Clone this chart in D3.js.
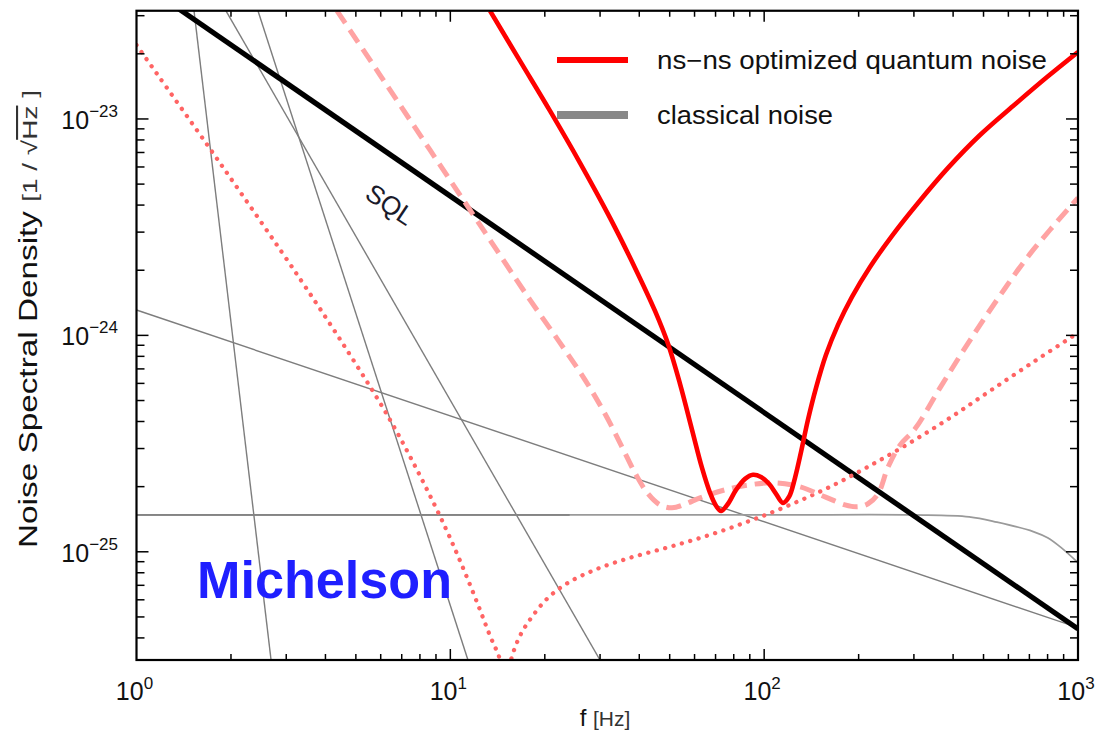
<!DOCTYPE html>
<html>
<head>
<meta charset="utf-8">
<script src="https://cdn.jsdelivr.net/npm/d3@7"></script>
<style>
  html, body { margin: 0; padding: 0; background: #fff; }
  svg { display: block; }
  text { font-family: "Liberation Sans", Arial, Helvetica, sans-serif; }
</style>
</head>
<body>
<svg id="chart" width="1099" height="746"></svg>
<script>
// ---------------- data ----------------
const xTickValues = [1, 10, 100, 1000];
const xTickExps = ["0", "1", "2", "3"];
const yTickValues = [1e-23, 1e-24, 1e-25];
const yTickExps = ["\u221223", "\u221224", "\u221225"];

// Standard quantum limit (black)
const sqlF = [1, 1000];
const sqlS = [4.40e-23, 4.40e-26];

// ns-ns optimized quantum noise (red solid)
const optF = [13.38, 16.67, 20.78, 25.89, 32.27, 38.77, 44.89, 49.38, 53.93, 58.90, 63.38, 67.22, 70.24, 72.87, 76.70, 81.34, 86.90, 92.14, 97.70, 103.6, 109.1, 114.8, 120.0, 125.4, 131.1, 137.9, 146.3, 157.4, 171.9, 190.5, 217.4, 255.5, 309.2, 385.3, 487.4, 620.9, 796.9, 1000];
const optS = [3.16e-23, 1.854e-23, 1.089e-23, 6.27e-24, 3.49e-24, 2.05e-24, 1.297e-24, 9.14e-25, 5.97e-25, 3.66e-25, 2.44e-25, 1.873e-25, 1.631e-25, 1.545e-25, 1.667e-25, 1.932e-25, 2.173e-25, 2.27e-25, 2.218e-25, 2.061e-25, 1.854e-25, 1.683e-25, 1.795e-25, 2.198e-25, 2.897e-25, 4.074e-25, 5.719e-25, 8.128e-25, 1.118e-24, 1.507e-24, 2.07e-24, 2.884e-24, 4.09e-24, 5.94e-24, 8.43e-24, 1.148e-23, 1.563e-23, 2.04e-23];

// pink dashed quantum noise
const dashF = [4.355, 5.971, 8.612, 12.43, 17.94, 22.36, 26.86, 31.10, 35.24, 39.05, 42.65, 46.57, 50.86, 56.36, 62.47, 75.04, 90.14, 108.3, 130.1, 156.3, 180.9, 199.1, 214.2, 230.6, 248.1, 270.9, 302.5, 363.3, 443.0, 552.1, 703.3, 1000];
const dashS = [3.155e-23, 1.596e-23, 7.19e-24, 3.24e-24, 1.459e-24, 9.24e-25, 6.23e-25, 4.34e-25, 3.05e-25, 2.27e-25, 1.854e-25, 1.648e-25, 1.596e-25, 1.667e-25, 1.776e-25, 1.933e-25, 2.04e-25, 2.083e-25, 1.996e-25, 1.795e-25, 1.648e-25, 1.614e-25, 1.667e-25, 1.854e-25, 2.46e-25, 3.11e-25, 3.70e-25, 5.72e-25, 9.04e-25, 1.459e-24, 2.38e-24, 4.32e-24];

// red dotted quantum noise
const dotF = [1, 1.845, 3.319, 4.789, 6.425, 8.007, 9.616, 10.97, 12.25, 13.38, 14.40, 14.94, 15.61, 16.67, 18.21, 20.48, 23.71, 28.91, 37.37, 50.12, 67.22, 90.14, 120.9, 162.1, 217.4, 291.6, 391.1, 524.5, 729.5, 1000];
const dotS = [2.196e-23, 6.26e-24, 1.824e-24, 8.13e-25, 4.07e-25, 2.244e-25, 1.304e-25, 8.44e-26, 5.69e-26, 4.09e-26, 3.17e-26, 2.26e-26, 3.17e-26, 4.09e-26, 5.01e-26, 6.13e-26, 7.19e-26, 8.26e-26, 9.38e-26, 1.055e-25, 1.198e-25, 1.390e-25, 1.648e-25, 1.996e-25, 2.50e-25, 3.19e-25, 4.16e-25, 5.54e-25, 7.62e-25, 1.027e-24];

// classical noise (gray)
const seismicF = [1.525, 2.684];
const seismicS = [3.16e-23, 3.16e-26];
const gravGradF = [2.438, 11.38];
const gravGradS = [3.16e-23, 3.16e-26];
const suspF = [1.928, 29.99];
const suspS = [3.16e-23, 3.16e-26];
const slopeF = [1, 1000];
const slopeS = [1.31e-24, 4.46e-26];
const flatF = [1, 100, 300, 450, 552, 720, 800, 880, 1000];
const flatS = [1.48e-25, 1.48e-25, 1.48e-25, 1.45e-25, 1.37e-25, 1.24e-25, 1.16e-25, 1.05e-25, 8.9e-26];
const flatDarkF = [1, 24];
const flatDarkS = [1.48e-25, 1.48e-25];

const legendLabels = ["ns\u2212ns optimized quantum noise", "classical noise"];

// ---------------- drawing ----------------
const svg = d3.select("#chart");
svg.append("rect").attr("width", 1099).attr("height", 746).attr("fill", "#fff");

const L = 136.5, R = 1078, T = 10.75, B = 660;
const x = d3.scaleLog().domain([1, 1000]).range([L, R]);
const y = d3.scaleLog().domain([Math.pow(10, -25.5), Math.pow(10, -22.5)]).range([B, T]);

svg.append("defs").append("clipPath").attr("id", "plotclip")
  .append("rect").attr("x", L).attr("y", T).attr("width", R - L).attr("height", B - T);

const zip = (F, S) => F.map((f, i) => [f, S[i]]);
const lineStraight = d3.line().x(d => x(d[0])).y(d => y(d[1]));
const lineCurve = d3.line().x(d => x(d[0])).y(d => y(d[1])).curve(d3.curveCatmullRom.alpha(0.5));

const plot = svg.append("g").attr("clip-path", "url(#plotclip)");

// gray classical lines
[[seismicF, seismicS], [gravGradF, gravGradS], [suspF, suspS], [slopeF, slopeS]].forEach(([F, S]) => {
  plot.append("path").attr("d", lineStraight(zip(F, S)))
    .attr("fill", "none").attr("stroke", "#7d7d7d").attr("stroke-width", 1.4);
});
plot.append("path").attr("d", lineCurve(zip(flatF, flatS)))
  .attr("fill", "none").attr("stroke", "#9a9a9a").attr("stroke-width", 1.7);
plot.append("path").attr("d", lineStraight(zip(flatDarkF, flatDarkS)))
  .attr("fill", "none").attr("stroke", "#7d7d7d").attr("stroke-width", 1.5);

// SQL
plot.append("path").attr("d", lineStraight(zip(sqlF, sqlS)))
  .attr("fill", "none").attr("stroke", "#000").attr("stroke-width", 5.2);

// dotted
plot.append("path").attr("d", lineCurve(zip(dotF, dotS)))
  .attr("fill", "none").attr("stroke", "#ff6464").attr("stroke-width", 4.3)
  .attr("stroke-linecap", "round").attr("stroke-dasharray", "0.1 8.6");

// dashed
plot.append("path").attr("d", lineCurve(zip(dashF, dashS)))
  .attr("fill", "none").attr("stroke", "#ffa3a3").attr("stroke-width", 5)
  .attr("stroke-dasharray", "15 8");

// solid red
plot.append("path").attr("d", lineCurve(zip(optF, optS)))
  .attr("fill", "none").attr("stroke", "#ff0000").attr("stroke-width", 4.6)
  .attr("stroke-linejoin", "round");

// ---------------- ticks ----------------
const tickG = svg.append("g").attr("stroke", "#000").attr("stroke-width", 1.5);
const isMajor = v => Math.abs(Math.log10(v) - Math.round(Math.log10(v))) < 1e-6;
x.ticks().forEach(v => {
  const px = x(v), len = isMajor(v) ? 11 : 6;
  if (v <= 1 || v >= 1000) return;
  tickG.append("line").attr("x1", px).attr("x2", px).attr("y1", B).attr("y2", B - len);
  tickG.append("line").attr("x1", px).attr("x2", px).attr("y1", T).attr("y2", T + len);
});
y.ticks().forEach(v => {
  const py = y(v), len = isMajor(v) ? 12 : 8;
  tickG.append("line").attr("x1", L).attr("x2", L + len).attr("y1", py).attr("y2", py);
  tickG.append("line").attr("x1", R).attr("x2", R - len).attr("y1", py).attr("y2", py);
});

// frame
svg.append("rect").attr("x", L).attr("y", T).attr("width", R - L).attr("height", B - T)
  .attr("fill", "none").attr("stroke", "#000").attr("stroke-width", 2.2);

// x tick labels
xTickValues.forEach((v, i) => {
  const t = svg.append("text").attr("x", x(v) - 2).attr("y", 700)
    .attr("text-anchor", "middle").attr("font-size", 25).attr("fill", "#111");
  t.append("tspan").text("10");
  t.append("tspan").attr("dy", -11).attr("font-size", 17).text(xTickExps[i]);
});

// y tick labels
yTickValues.forEach((v, i) => {
  const t = svg.append("text").attr("x", 118).attr("y", y(v) + 10)
    .attr("text-anchor", "end").attr("font-size", 25).attr("fill", "#111");
  t.append("tspan").text("10");
  t.append("tspan").attr("dy", -12).attr("font-size", 17).text(yTickExps[i]);
});

// axis titles
svg.append("text").attr("x", 605).attr("y", 726).attr("text-anchor", "middle")
  .attr("font-size", 24).attr("fill", "#111")
  .html('f <tspan font-size="21" fill="#333">[Hz]</tspan>');

const yt = svg.append("text").attr("transform", "translate(37,319) rotate(-90)")
  .attr("text-anchor", "middle").attr("font-size", 25).attr("fill", "#111")
  .attr("textLength", 458).attr("lengthAdjust", "spacingAndGlyphs");
yt.append("tspan").text("Noise Spectral Density ");
yt.append("tspan").attr("font-size", 21).attr("fill", "#333").text("[1 / \u221A");
yt.append("tspan").attr("font-size", 21).attr("fill", "#333").style("text-decoration", "overline").text("Hz");
yt.append("tspan").attr("font-size", 21).attr("fill", "#333").text(" ]");

// SQL label
svg.append("text").attr("transform", "translate(385,212) rotate(34)")
  .attr("text-anchor", "middle").attr("font-size", 26).attr("fill", "#1a1a2a").text("SQL");

// Michelson
svg.append("text").attr("x", 197).attr("y", 598).attr("font-size", 51)
  .attr("font-weight", "bold").attr("fill", "#1f1fff")
  .attr("textLength", 255).attr("lengthAdjust", "spacingAndGlyphs").text("Michelson");

// legend
const legend = svg.append("g");
legend.append("line").attr("x1", 557).attr("x2", 628).attr("y1", 60).attr("y2", 60)
  .attr("stroke", "#ff0000").attr("stroke-width", 6);
legend.append("line").attr("x1", 557).attr("x2", 628).attr("y1", 115).attr("y2", 115)
  .attr("stroke", "#888").attr("stroke-width", 8);
legend.append("text").attr("x", 657).attr("y", 69).attr("font-size", 25).attr("fill", "#111")
  .attr("textLength", 390).attr("lengthAdjust", "spacingAndGlyphs").text(legendLabels[0]);
legend.append("text").attr("x", 657).attr("y", 124).attr("font-size", 25).attr("fill", "#111")
  .attr("textLength", 176).attr("lengthAdjust", "spacingAndGlyphs").text(legendLabels[1]);
</script>
</body>
</html>
